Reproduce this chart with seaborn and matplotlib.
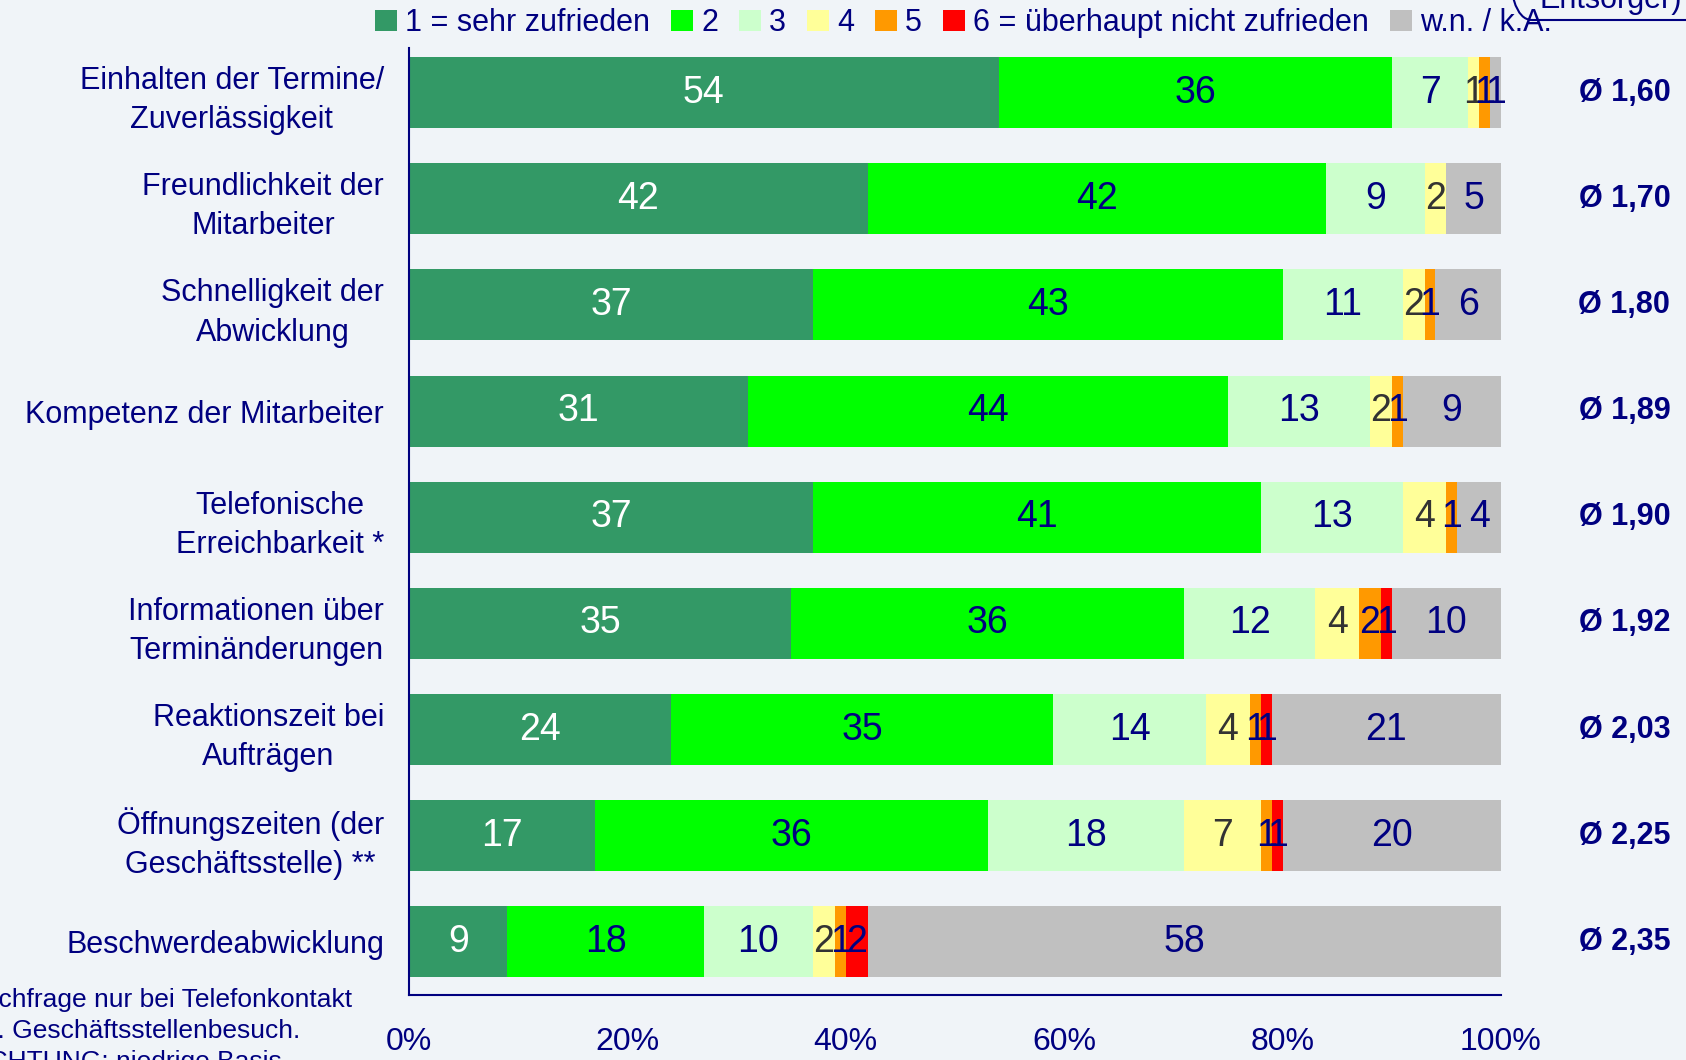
import numpy as np
import pandas as pd
import matplotlib.pyplot as plt
import seaborn as sns
from matplotlib.patches import Patch, FancyBboxPatch
from matplotlib.transforms import IdentityTransform

# Data
categories = [
    "Einhalten der Termine/\nZuverlässigkeit",
    "Freundlichkeit der\nMitarbeiter",
    "Schnelligkeit der\nAbwicklung",
    "Kompetenz der Mitarbeiter",
    "Telefonische\nErreichbarkeit *",
    "Informationen über\nTerminänderungen",
    "Reaktionszeit bei\nAufträgen",
    "Öffnungszeiten (der\nGeschäftsstelle) **",
    "Beschwerdeabwicklung",
]
averages = ["Ø 1,60", "Ø 1,70", "Ø 1,80", "Ø 1,89", "Ø 1,90",
            "Ø 1,92", "Ø 2,03", "Ø 2,25", "Ø 2,35"]
series_names = ["1 = sehr zufrieden", "2", "3", "4", "5",
                "6 = überhaupt nicht zufrieden", "w.n. / k.A."]
s1 = [54, 42, 37, 31, 37, 35, 24, 17, 9]
s2 = [36, 42, 43, 44, 41, 36, 35, 36, 18]
s3 = [7, 9, 11, 13, 13, 12, 14, 18, 10]
s4 = [1, 2, 2, 2, 4, 4, 4, 7, 2]
s5 = [1, 0, 1, 1, 1, 2, 1, 1, 1]
s6 = [0, 0, 0, 0, 0, 1, 1, 1, 2]
s_wn = [1, 5, 6, 9, 4, 10, 21, 20, 58]
x_ticks = [0, 20, 40, 60, 80, 100]

colors = ["#339966", "#00FF00", "#CCFFCC", "#FFFF99", "#FF9900", "#FF0000", "#C0C0C0"]
label_colors = ["white", "#000080", "#000080", "#333333", "#000080", "#000080", "#000080"]
navy = "#000080"
bg = "#F0F4F8"

df = pd.DataFrame(dict(zip(series_names, [s1, s2, s3, s4, s5, s6, s_wn])))
df["category"] = categories
cum = df[series_names].cumsum(axis=1)
cum["category"] = categories

sns.set_style("white")
plt.rcParams["font.family"] = ["Liberation Sans", "DejaVu Sans"]

fig = plt.figure(figsize=(16.86, 10.60), dpi=100, facecolor=bg)
ax = fig.add_axes([409 / 1686, 1 - 995 / 1060, (1501 - 409) / 1686, (995 - 48) / 1060])
ax.set_facecolor(bg)

# stacked bars: draw cumulative totals from the longest down
for k in reversed(range(len(series_names))):
    sns.barplot(data=cum, x=series_names[k], y="category", color=colors[k],
                orient="h", width=0.67, saturation=1, errorbar=None,
                linewidth=0, ax=ax)

# segment labels
for k, name in enumerate(series_names):
    left = cum[name] - df[name]
    for i, v in enumerate(df[name]):
        if v > 0:
            ax.text(left[i] + v / 2, i, str(v), ha="center", va="center",
                    fontsize=27, color=label_colors[k])

# averages on the right
for i, a in enumerate(averages):
    ax.text(111.3, i, a, ha="center", va="center", fontsize=22,
            fontweight="bold", color=navy, clip_on=False)

ax.set_xlim(0, 100)
ax.set_ylim(8.5, -0.42)
ax.set_xlabel("")
ax.set_ylabel("")
ax.set_xticks(x_ticks)
ax.set_xticklabels([f"{t}%" for t in x_ticks])
ax.set_yticks(range(len(categories)))
ax.set_yticklabels(categories)
ax.set_yticks(np.arange(0.5, len(categories), 1), minor=True)
for t in ax.get_yticklabels():
    t.set_multialignment("center")
    t.set_linespacing(1.4)

ax.tick_params(axis="y", which="major", length=0, pad=18, labelsize=22, labelcolor=navy)
ax.tick_params(axis="y", which="minor", length=8, width=1.5, color=navy, direction="out")
ax.tick_params(axis="x", length=7, width=1.5, color=navy, direction="out",
               pad=16, labelsize=23, labelcolor=navy)

for side in ["top", "right"]:
    ax.spines[side].set_visible(False)
for side in ["left", "bottom"]:
    ax.spines[side].set_color(navy)
    ax.spines[side].set_linewidth(1.5)

# legend at the top
handles = [Patch(facecolor=c, edgecolor="none") for c in colors]
leg = fig.legend(handles, series_names, loc="center", ncol=7,
                 bbox_to_anchor=(0.5715, 1 - 23 / 1060), frameon=False,
                 fontsize=22, handlelength=0.7, handleheight=0.7,
                 handletextpad=0.27, columnspacing=0.7, borderpad=0)
for t in leg.get_texts():
    t.set_color(navy)

# box cut off at the top right
box = FancyBboxPatch((1508, 1040), 400, 100, boxstyle="round,pad=0,rounding_size=24",
                     facecolor="none", edgecolor=navy, linewidth=1.5,
                     transform=IdentityTransform())
fig.add_artist(box)
fig.text(1682 / 1686, 1 - 8 / 1060, "Entsorger)", ha="right", va="baseline",
         fontsize=22, color=navy)

# footnotes, partly outside the picture
fig.text(352 / 1686, 1 - 1007 / 1060, "* Nachfrage nur bei Telefonkontakt",
         ha="right", va="baseline", fontsize=19, color=navy)
fig.text(300 / 1686, 1 - 1038 / 1060, "** bzw. Geschäftsstellenbesuch.",
         ha="right", va="baseline", fontsize=19, color=navy)
fig.text(282 / 1686, 1 - 1069 / 1060, "ACHTUNG: niedrige Basis",
         ha="right", va="baseline", fontsize=19, color=navy)

fig.savefig("out.png", dpi=100, facecolor=bg)
